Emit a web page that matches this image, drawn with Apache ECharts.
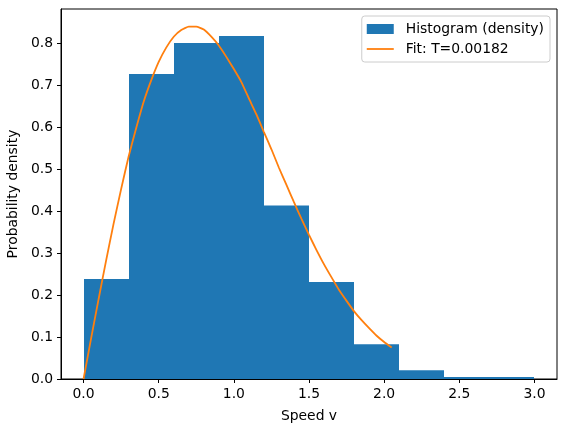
<!DOCTYPE html>
<html>
<head>
<meta charset="utf-8">
<script src="https://cdn.jsdelivr.net/npm/echarts@6/dist/echarts.min.js"></script>
<style>html,body{margin:0;padding:0;background:#fff;}#c{width:567px;height:432px;}</style>
</head>
<body>
<div id="c"></div>
<script>
var binEdges = [0.0, 0.3, 0.6, 0.9, 1.2, 1.5, 1.8, 2.1, 2.4, 2.7, 3.0];
var densities = [0.238, 0.726, 0.800, 0.817, 0.413, 0.231, 0.083, 0.021, 0.005, 0.005];
var fitV = [0, 0.05, 0.1, 0.15, 0.2, 0.25, 0.3, 0.35, 0.4, 0.45, 0.5, 0.55, 0.6, 0.65, 0.7, 0.75, 0.8, 0.85, 0.9, 0.95,
            1.0, 1.05, 1.1, 1.15, 1.2, 1.25, 1.3, 1.35, 1.4, 1.45, 1.5, 1.55, 1.6, 1.65, 1.7, 1.75, 1.8, 1.85, 1.9, 1.95, 2.0, 2.05];
var fitF = [0, 0.096, 0.19, 0.282, 0.37, 0.452, 0.53, 0.597, 0.66, 0.711, 0.755, 0.789, 0.815, 0.831, 0.839, 0.839, 0.832, 0.815, 0.794, 0.767,
            0.738, 0.707, 0.668, 0.630, 0.588, 0.547, 0.503, 0.462, 0.421, 0.381, 0.343, 0.307, 0.273, 0.242, 0.212, 0.186, 0.161, 0.140, 0.121, 0.103, 0.088, 0.075];
var xTicks = [0.0, 0.5, 1.0, 1.5, 2.0, 2.5, 3.0];
var yTicks = [0.0, 0.1, 0.2, 0.3, 0.4, 0.5, 0.6, 0.7, 0.8];

var histData = [];
for (var i = 0; i < densities.length; i++) histData.push([binEdges[i], binEdges[i + 1], densities[i]]);
var fitData = fitV.map(function (v, i) { return [v, fitF[i]]; });

var font = 'DejaVu Sans';
var fs = 13.9;
var chart = echarts.init(document.getElementById('c'), null, {renderer: 'canvas'});
chart.setOption({
  animation: false,
  backgroundColor: '#fff',
  grid: {left: 61, right: 10, top: 9, bottom: 53, show: true, borderColor: '#000', borderWidth: 1,
    backgroundColor: 'transparent', containLabel: false, outerBoundsMode: 'none'},
  legend: {
    orient: 'vertical', right: 17, top: 16,
    padding: [5, 6, 5, 5], itemGap: 4, itemWidth: 27, itemHeight: 10,
    borderColor: '#cccccc', borderWidth: 1, borderRadius: 3, backgroundColor: 'rgba(255,255,255,0.8)',
    textStyle: {fontFamily: font, fontSize: fs, color: '#000', lineHeight: 16, padding: [0, 0, 0, 7]},
    data: [
      {name: 'Histogram (density)', icon: 'rect'},
      {name: 'Fit: T=0.00182', icon: 'path://M0,0 M27,10 M0,4.1 L27,4.1 L27,5.9 L0,5.9 Z'}
    ]
  },
  xAxis: {
    type: 'value', min: -0.15, max: 3.15,
    name: 'Speed v', nameLocation: 'middle', nameGap: 30,
    nameTextStyle: {fontFamily: font, fontSize: fs, color: '#000'},
    axisLine: {show: true, onZero: false, lineStyle: {color: '#000', width: 1}},
    axisTick: {show: true, length: 4, lineStyle: {color: '#000'}, customValues: xTicks},
    axisLabel: {fontFamily: font, fontSize: fs, color: '#000', margin: 8, customValues: xTicks,
      formatter: function (v) { return v.toFixed(1); }},
    splitLine: {show: false}
  },
  yAxis: {
    type: 'value', min: 0, max: 0.881,
    name: 'Probability density', nameLocation: 'middle', nameGap: 33,
    nameTextStyle: {fontFamily: font, fontSize: fs, color: '#000'},
    axisLine: {show: true, onZero: false, lineStyle: {color: '#000', width: 1}},
    axisTick: {show: true, length: 4, lineStyle: {color: '#000'}, customValues: yTicks},
    axisLabel: {fontFamily: font, fontSize: fs, color: '#000', margin: 8, customValues: yTicks,
      formatter: function (v) { return v.toFixed(1); }},
    splitLine: {show: false}
  },
  series: [
    {
      name: 'Histogram (density)', type: 'custom', color: '#1f77b4',
      encode: {x: [0, 1], y: 2},
      data: histData,
      renderItem: function (params, api) {
        var p0 = api.coord([api.value(0), api.value(2)]);
        var p1 = api.coord([api.value(1), 0]);
        var x0 = Math.round(p0[0]), x1 = Math.round(p1[0]);
        return {type: 'rect', shape: {x: x0, y: p0[1], width: x1 - x0, height: p1[1] - p0[1]},
          style: {fill: '#1f77b4'}};
      },
      z: 2
    },
    {
      name: 'Fit: T=0.00182', type: 'line', color: '#ff7f0e',
      data: fitData, smooth: 0.15, showSymbol: false, symbol: 'none',
      lineStyle: {color: '#ff7f0e', width: 1.8},
      itemStyle: {color: '#ff7f0e'},
      z: 3
    }
  ]
});
</script>
</body>
</html>
